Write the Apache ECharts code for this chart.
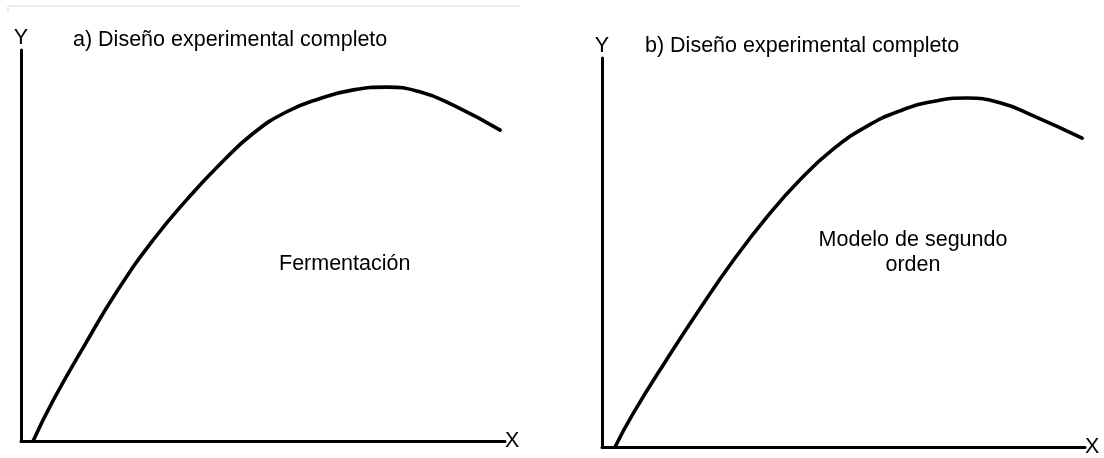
<!DOCTYPE html>
<html>
<head>
<meta charset="utf-8">
<script src="https://cdn.jsdelivr.net/npm/echarts@6/dist/echarts.min.js"></script>
<style>
html,body{margin:0;padding:0;background:#fff;}
#chart{width:1104px;height:458px;}
</style>
</head>
<body>
<div id="chart"></div>
<script>
// Panel titles and annotations
const titles = ['a) Diseño experimental completo', 'b) Diseño experimental completo'];
const notes = ['Fermentación', 'Modelo de segundo\norden'];
const axisNames = { x: 'X', y: 'Y' };

// Curve a (Fermentación): [x, y] in relative units 0–100
const curveA = [
  [2.5, 0], [6.7, 10.5], [13.0, 24.2], [20.0, 38.6], [27.3, 51.4],
  [34.3, 61.8], [41.1, 70.8], [48.0, 78.7], [54.9, 84.2], [61.8, 87.6],
  [68.7, 89.8], [75.6, 90.5], [82.4, 89.3], [89.3, 85.9], [99.0, 79.5]
];
// Curve b (Modelo de segundo orden)
const curveB = [
  [2.7, 0], [6.4, 8.5], [13.5, 22.7], [20.3, 35.6], [27.1, 47.8],
  [34.2, 59.2], [41.0, 68.7], [47.8, 76.5], [54.9, 82.5], [61.7, 86.4],
  [68.5, 88.8], [75.6, 89.7], [82.4, 88.5], [89.2, 85.2], [99.4, 79.4]
];

const FONT = '"Liberation Sans", Arial, sans-serif';
const FS = 21.5;
const chart = echarts.init(document.getElementById('chart'), null, {renderer: 'canvas'});

function xAx(i) {
  return {
    type: 'value', gridIndex: i, min: 0, max: 100,
    name: axisNames.x, nameLocation: 'end', nameGap: 0,
    nameTextStyle: {fontFamily: FONT, fontSize: FS, color: '#000', verticalAlign: 'middle', padding: [4,0,0,0]},
    axisLine: {show: true, lineStyle: {color: '#000', width: 3}},
    axisTick: {show: false}, axisLabel: {show: false}, splitLine: {show: false}
  };
}
function yAx(i) {
  return {
    type: 'value', gridIndex: i, min: 0, max: 100,
    name: axisNames.y, nameLocation: 'end', nameGap: 1,
    nameTextStyle: {fontFamily: FONT, fontSize: FS, color: '#000'},
    axisLine: {show: true, lineStyle: {color: '#000', width: 3}},
    axisTick: {show: false}, axisLabel: {show: false}, splitLine: {show: false}
  };
}
function curve(data, i) {
  return {
    type: 'line', xAxisIndex: i, yAxisIndex: i, data: data,
    smooth: true, showSymbol: false, symbol: 'none',
    lineStyle: {color: '#000', width: 3.6, cap: 'round', join: 'round'},
    silent: true, animation: false
  };
}

chart.setOption({
  backgroundColor: '#fff',
  animation: false,
  grid: [
    {left: 21, top: 50, width: 484, height: 391},
    {left: 602, top: 58, width: 483, height: 390}
  ],
  xAxis: [xAx(0), xAx(1)],
  yAxis: [yAx(0), yAx(1)],
  series: [curve(curveA, 0), curve(curveB, 1)],
  graphic: [
    {type: 'line', shape: {x1: 8, y1: 6, x2: 520, y2: 6}, style: {stroke: '#dcdcdc', lineWidth: 1}},
    {type: 'line', shape: {x1: 8, y1: 6, x2: 8, y2: 12}, style: {stroke: '#dcdcdc', lineWidth: 1}},
    {type: 'text', x: 73, y: 40, style: {text: titles[0], font: FS + 'px ' + FONT, fill: '#000', textAlign: 'left', textVerticalAlign: 'middle'}},
    {type: 'text', x: 645, y: 46, style: {text: titles[1], font: FS + 'px ' + FONT, fill: '#000', textAlign: 'left', textVerticalAlign: 'middle'}},
    {type: 'text', x: 279, y: 264, style: {text: notes[0], font: FS + 'px ' + FONT, fill: '#000', textAlign: 'left', textVerticalAlign: 'middle'}},
    {type: 'text', x: 913, y: 253, style: {text: notes[1], font: FS + 'px ' + FONT, fill: '#000', textAlign: 'center', textVerticalAlign: 'middle', lineHeight: 25}}
  ]
});
</script>
</body>
</html>
